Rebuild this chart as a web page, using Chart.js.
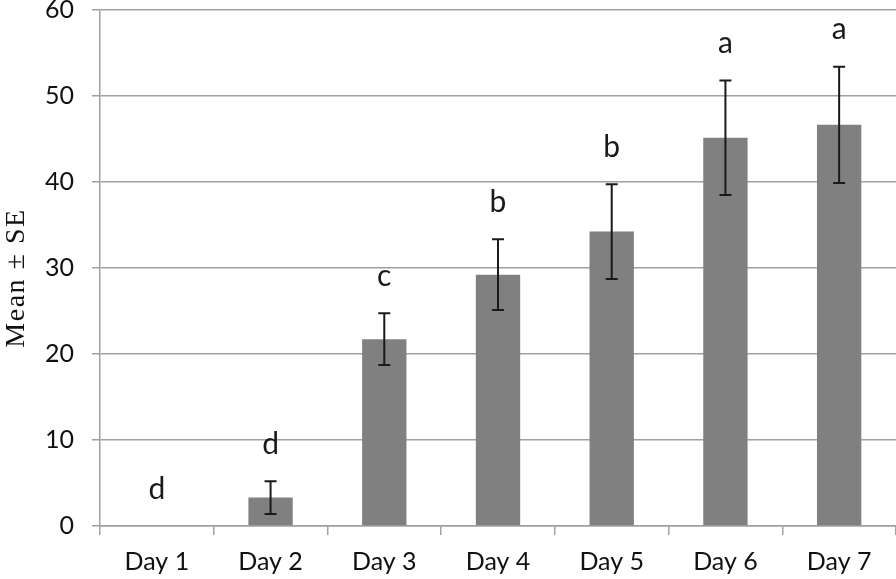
<!DOCTYPE html>
<html>
<head>
<meta charset="utf-8">
<script src="https://cdn.jsdelivr.net/npm/chart.js@4"></script>
<style>
  html, body { margin: 0; padding: 0; background: #fff; }
  #wrap { width: 896px; height: 579px; }
</style>
</head>
<body>
<div id="wrap"><canvas id="chart" width="896" height="579"></canvas></div>
<script>
// data
const days = ['Day 1', 'Day 2', 'Day 3', 'Day 4', 'Day 5', 'Day 6', 'Day 7'];
const means = [0, 3.3, 21.7, 29.2, 34.2, 45.1, 46.6];
const errors = [0, 1.9, 3.0, 4.1, 5.5, 6.65, 6.75];
const letters = ['d', 'd', 'c', 'b', 'b', 'a', 'a'];
const yTitle = 'Mean ± SE';
const yMin = 0, yMax = 60, yStep = 10;

// error bars + significance letters
const errorBars = {
  id: 'errorBars',
  afterDatasetsDraw(chart) {
    const ctx = chart.ctx;
    const y = chart.scales.y;
    const meta = chart.getDatasetMeta(0);
    ctx.save();
    meta.data.forEach(function(bar, i) {
      const top = y.getPixelForValue(means[i] + errors[i]);
      const bot = y.getPixelForValue(means[i] - errors[i]);
      if (errors[i] > 0) {
        ctx.strokeStyle = '#1a1a1a';
        ctx.lineWidth = 2;
        ctx.beginPath();
        ctx.moveTo(bar.x, top); ctx.lineTo(bar.x, bot);
        ctx.moveTo(bar.x - 6, top); ctx.lineTo(bar.x + 6, top);
        ctx.moveTo(bar.x - 6, bot); ctx.lineTo(bar.x + 6, bot);
        ctx.stroke();
      }
      ctx.fillStyle = '#1a1a1a';
      ctx.font = '30px Lato';
      ctx.textAlign = 'center';
      ctx.textBaseline = 'middle';
      ctx.fillText(letters[i], bar.x, top - 37);
    });
    ctx.restore();
  }
};

// rotated serif axis title, drawn by hand so the font sticks
const axisTitle = {
  id: 'axisTitle',
  afterDraw(chart) {
    const ctx = chart.ctx;
    ctx.save();
    ctx.translate(17, 278);
    ctx.rotate(-Math.PI / 2);
    ctx.fillStyle = '#111';
    ctx.font = '28px "Liberation Serif", serif';
    ctx.letterSpacing = '1.5px';
    ctx.textAlign = 'center';
    ctx.textBaseline = 'middle';
    ctx.fillText(yTitle, 0, 0);
    ctx.restore();
  }
};

const ctx = document.getElementById('chart').getContext('2d');
const chart = new Chart(ctx, {
  type: 'bar',
  data: {
    labels: days,
    datasets: [{
      data: means,
      backgroundColor: '#808080',
      borderWidth: 0,
      barPercentage: 0.39,
      categoryPercentage: 1.0
    }]
  },
  options: {
    responsive: false,
    devicePixelRatio: 1,
    animation: false,
    layout: { padding: 0 },
    plugins: {
      legend: { display: false },
      tooltip: { enabled: false }
    },
    scales: {
      x: {
        grid: {
          offset: true,
          drawOnChartArea: false,
          color: '#a0a0a0',
          lineWidth: 1.5,
          tickLength: 9
        },
        border: { color: '#a0a0a0', width: 1.5 },
        ticks: {
          color: '#111',
          font: { family: 'Lato', size: 25 },
          padding: 12,
          maxRotation: 0
        },
        afterFit(scale) {
          scale.height = 53;
          scale.paddingLeft = 0;
          scale.paddingRight = 0;
        }
      },
      y: {
        min: yMin,
        max: yMax,
        grid: {
          color: '#a0a0a0',
          lineWidth: 1.5,
          tickLength: 8
        },
        border: { color: '#a0a0a0', width: 1.5 },
        ticks: {
          stepSize: yStep,
          color: '#111',
          font: { family: 'Lato', size: 25 },
          padding: 18
        },
        afterFit(scale) {
          scale.width = 100;
          scale.paddingTop = 9.5;
          scale.paddingBottom = 0;
        }
      }
    }
  },
  plugins: [errorBars, axisTitle]
});
</script>
</body>
</html>
